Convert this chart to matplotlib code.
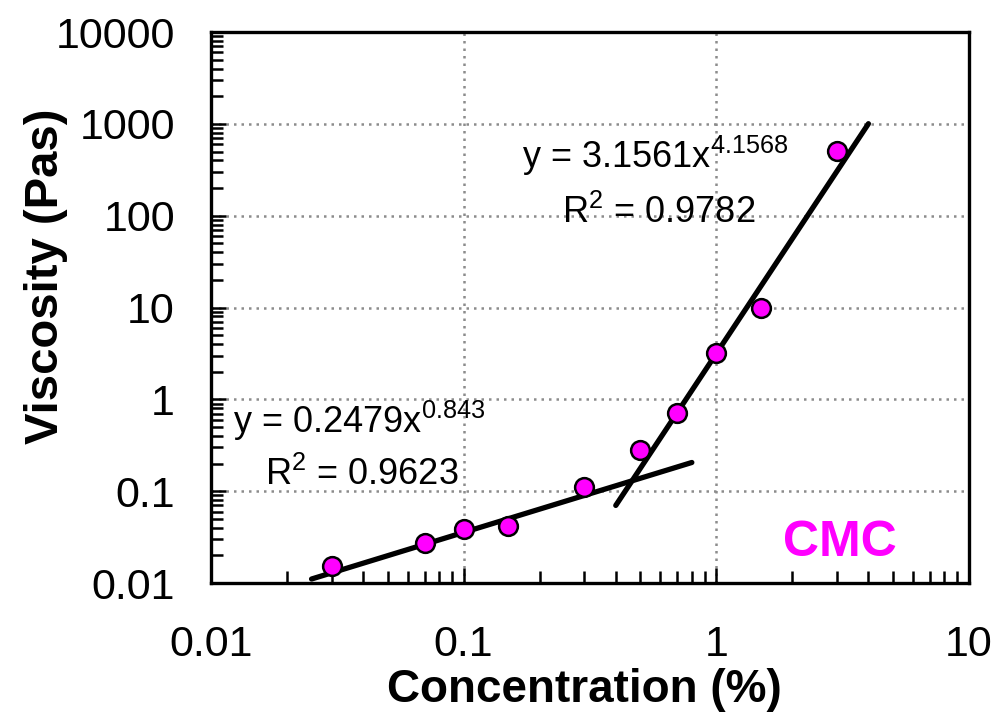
import numpy as np
import matplotlib
matplotlib.use('Agg')
import matplotlib.pyplot as plt

plt.rcParams['font.family'] = 'Liberation Sans'
plt.rcParams['mathtext.fontset'] = 'custom'
plt.rcParams['mathtext.rm'] = 'Liberation Sans'
plt.rcParams['mathtext.it'] = 'Liberation Sans'

# measured CMC data
conc = [0.03, 0.07, 0.1, 0.15, 0.3, 0.5, 0.7, 1.0, 1.5, 3.0]
visc = [0.0155, 0.0275, 0.039, 0.042, 0.112, 0.28, 0.71, 3.2, 10.0, 510.0]

# power law fits y = a*x^b
fit_lo = (0.2479, 0.843)
fit_hi = (3.1561, 4.1568)
range_lo = (0.025, 0.8)
range_hi = (0.4, 4.0)

fig = plt.figure(figsize=(10.01, 7.23), dpi=100)
ax = fig.add_axes([0.2108, 0.1936, 0.7572, 0.7621])

for (a, b), (x0, x1) in [(fit_lo, range_lo), (fit_hi, range_hi)]:
	xf = np.logspace(np.log10(x0), np.log10(x1), 50)
	ax.plot(xf, a * xf**b, color='black', lw=3.8, zorder=3, solid_capstyle='round')

ax.plot(conc, visc, 'o', ms=13.5, mfc='#ff00ff', mec='black', mew=1.8, zorder=4)

ax.set_xscale('log')
ax.set_yscale('log')
ax.set_xlim(0.01, 10)
ax.set_ylim(0.01, 10000)
ax.set_xticks([0.01, 0.1, 1, 10])
ax.set_xticklabels(['0.01', '0.1', '1', '10'])
ax.set_yticks([0.01, 0.1, 1, 10, 100, 1000, 10000])
ax.set_yticklabels(['0.01', '0.1', '1', '10', '100', '1000', '10000'])

ax.grid(True, which='major', color='#8c8c8c', linestyle=(0, (1, 2)), linewidth=1.8)
ax.tick_params(which='both', direction='in', top=False, right=False, width=1.8, labelsize=31)
ax.tick_params(which='major', length=11)
ax.tick_params(which='minor', length=8.5)
ax.tick_params(axis='x', pad=30)
ax.tick_params(axis='y', pad=26)
for s in ax.spines.values():
	s.set_linewidth(2.4)

ax.set_xlabel('Concentration (%)', fontsize=33, fontweight='bold')
ax.set_ylabel('Viscosity (Pas)', fontsize=34, fontweight='bold')
ax.xaxis.set_label_coords(0.492, -0.154)
ax.yaxis.set_label_coords(-0.189, 0.557)

ax.text(0.410, 0.753, 'y = %.4fx$^{%.4f}$' % fit_hi, transform=ax.transAxes, fontsize=26, va='baseline')
ax.text(0.463, 0.653, 'R$^{2}$ = 0.9782', transform=ax.transAxes, fontsize=26, va='baseline')
ax.text(0.029, 0.272, 'y = %.4fx$^{%.3f}$' % fit_lo, transform=ax.transAxes, fontsize=26, va='baseline')
ax.text(0.071, 0.178, 'R$^{2}$ = 0.9623', transform=ax.transAxes, fontsize=26, va='baseline')
ax.text(0.83, 0.072, 'CMC', transform=ax.transAxes, fontsize=36, fontweight='bold', color='#ff00ff', ha='center', va='center')

fig.savefig('out.png', dpi=100)
